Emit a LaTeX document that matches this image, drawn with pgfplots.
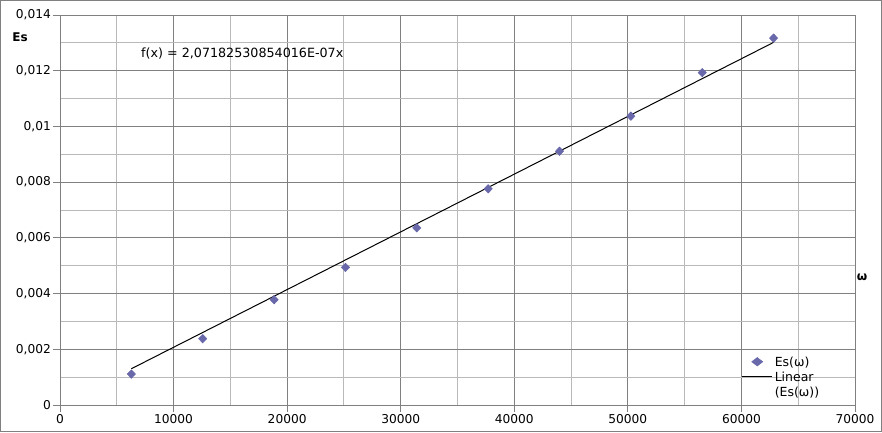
\documentclass[border=0pt]{standalone}
\usepackage{pgfplots}
\pgfplotsset{compat=1.18}
\usepackage{fontspec}
\setmainfont{DejaVu Sans}
\definecolor{series}{RGB}{104,104,170}
\definecolor{majgrid}{RGB}{128,128,128}
\definecolor{mingrid}{RGB}{185,185,185}
\begin{document}
\begin{tikzpicture}[x=1pt,y=1pt]
\useasboundingbox (0,0) rectangle (882,432);
\draw[majgrid, line width=1pt] (0.5,0.5) rectangle (881.5,431.5);
\begin{axis}[
    at={(60pt,27pt)}, anchor=south west,
    scale only axis, width=795pt, height=390pt,
    xmin=0, xmax=70000, ymin=0, ymax=0.014,
    xtick={0,10000,20000,30000,40000,50000,60000,70000},
    ytick={0,0.002,0.004,0.006,0.008,0.01,0.012,0.014},
    minor x tick num=1, minor y tick num=1,
    grid=both,
    major grid style={majgrid, line width=1pt},
    minor grid style={mingrid, line width=1pt},
    axis line style={majgrid, line width=1pt},
    tick style={majgrid, line width=1pt},
    tick align=outside, major tick length=7pt, minor tick length=0pt,
    xtick pos=left, ytick pos=left,
    scaled ticks=false,
    ticklabel style={font=\fontsize{12.2}{14}\selectfont, inner sep=2pt},
    /pgf/number format/assume math mode=true,
    x tick label style={/pgf/number format/1000 sep={}},
    y tick label style={/pgf/number format/.cd, fixed, use comma, precision=3},
    clip=false,
    legend style={draw=none, fill=none, at={(axis cs:60010,0.00181)}, anchor=north west,
        font=\fontsize{12.5}{15}\selectfont, inner sep=0pt, row sep=-1.1pt,
        cells={anchor=base west, inner sep=0.5pt},
        /tikz/every even column/.append style={column sep=2pt}},
]
% measured values
\addplot[only marks, mark=diamond*, mark size=4.3pt,
    mark options={fill=series, draw=series, xscale=1.3},
    legend image code/.code={
        \path[draw=none] (0pt,4.5pt) -- (30pt,4.5pt);
        \fill[series] (15pt,8.8pt) -- (20.6pt,4.5pt) -- (15pt,0.2pt) -- (9.4pt,4.5pt) -- cycle;}]
coordinates {
    (6283, 0.00111) (12566, 0.00238) (18850, 0.00378) (25133, 0.00494)
    (31416, 0.00636) (37699, 0.00776) (43982, 0.00911) (50265, 0.01037)
    (56549, 0.01193) (62832, 0.01317)
};
\addlegendentry{Es(ω)}
% small error bars
\addplot[draw=none, mark=none, forget plot,
    error bars/.cd, y dir=both, y fixed=0.00014, error mark=none,
    error bar style={black, line width=0.8pt}]
coordinates {
    (6283, 0.00111) (12566, 0.00238) (18850, 0.00378) (25133, 0.00494)
    (31416, 0.00636) (37699, 0.00776) (43982, 0.00911) (50265, 0.01037)
    (56549, 0.01193) (62832, 0.01317)
};
% linear trend line f(x) = 2.0718e-7 x
\addplot[black, line width=1pt, mark=none,
    legend image code/.code={\draw[black, line width=1pt] (0pt,4.5pt) -- (30pt,4.5pt);}]
coordinates {(6283, 0.0013017) (62832, 0.0130174)};
\addlegendentry{\begin{tabular}[t]{@{}l@{}}Linear\\(Es(ω))\end{tabular}}
\node[anchor=west, inner sep=0pt, font=\fontsize{12.7}{15}\selectfont] at (rel axis cs:0.1019,0.9) {f(x) = 2,07182530854016E-07x};
\node[font=\bfseries\fontsize{12}{14}\selectfont] at (rel axis cs:-0.0503,0.9436) {Es};
\node[font=\bfseries\fontsize{12}{14}\selectfont] at (rel axis cs:1.0088,0.328) {ω};
\end{axis}
\end{tikzpicture}
\end{document}
